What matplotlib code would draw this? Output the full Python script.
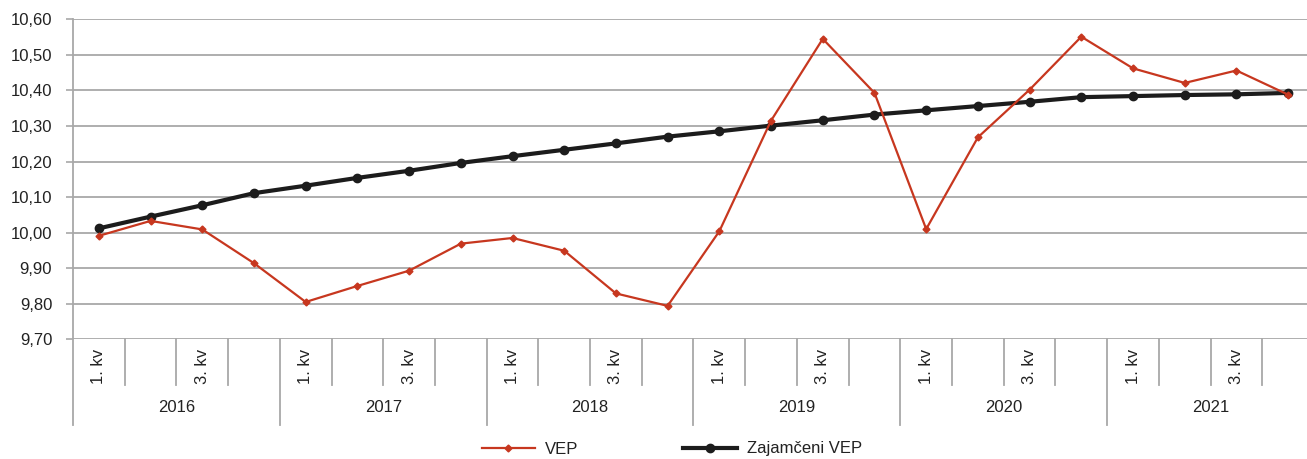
import matplotlib
matplotlib.use("Agg")
import matplotlib.pyplot as plt
from matplotlib.lines import Line2D
from matplotlib.ticker import FuncFormatter

years = ["2016", "2017", "2018", "2019", "2020", "2021"]
quarter_labels = ["1. kv", "", "3. kv", ""]
vep = [9.991, 10.033, 10.009, 9.914, 9.805, 9.850, 9.893, 9.969,
       9.985, 9.949, 9.829, 9.794, 10.004, 10.315, 10.545, 10.393,
       10.010, 10.268, 10.402, 10.551, 10.462, 10.421, 10.456, 10.388]
zajamceni = [10.012, 10.045, 10.077, 10.111, 10.132, 10.154, 10.174, 10.196,
             10.215, 10.233, 10.251, 10.270, 10.285, 10.301, 10.316, 10.332,
             10.344, 10.356, 10.368, 10.381, 10.384, 10.387, 10.389, 10.393]
y_ticks = [9.70, 9.80, 9.90, 10.00, 10.10, 10.20, 10.30, 10.40, 10.50, 10.60]

plt.rcParams['font.family'] = ['Liberation Sans', 'DejaVu Sans']

W, H = 1307, 459
fig = plt.figure(figsize=(W / 100, H / 100), dpi=100)
ax_left, ax_right, ax_top, ax_bot = 73, 1314, 19.3, 339.3
ax = fig.add_axes([ax_left / W, 1 - ax_bot / H, (ax_right - ax_left) / W, (ax_bot - ax_top) / H])

n = len(vep)
x = list(range(n))
red = '#c7371f'
black = '#1c1c1c'
grid_c = '#a8a8a8'

ax.plot(x, zajamceni, color=black, lw=3.0, marker='o', ms=6, zorder=3,
        label='Zajamčeni VEP', solid_capstyle='round')
ax.plot(x, vep, color=red, lw=1.6, marker='D', ms=3.5, zorder=4, label='VEP')

ax.set_xlim(-0.5, n - 0.5)
ax.set_ylim(y_ticks[0], y_ticks[-1])
ax.set_yticks(y_ticks)
ax.yaxis.set_major_formatter(FuncFormatter(lambda v, p: f"{v:.2f}".replace('.', ',')))
ax.grid(axis='y', color=grid_c, lw=1.3)
ax.set_axisbelow(True)
for s in ax.spines.values():
    s.set_visible(False)
ax.tick_params(axis='y', length=5, width=1.2, color=grid_c, pad=10, labelsize=12, labelcolor='#222222')
ax.set_xticks([])

ph = ax_bot - ax_top
def fy(py):
    return -(py - ax_bot) / ph

trans = ax.get_xaxis_transform()
# left spine continuing down as first year separator
ax.add_line(Line2D([-0.5, -0.5], [1, fy(425)], transform=trans, color=grid_c, lw=1.3, clip_on=False))
for i in range(n):
    xb = i + 0.5
    if (i + 1) % 4 == 0:
        ax.add_line(Line2D([xb, xb], [0, fy(425)], transform=trans, color=grid_c, lw=1.3, clip_on=False))
    else:
        ax.add_line(Line2D([xb, xb], [0, fy(385)], transform=trans, color=grid_c, lw=1.3, clip_on=False))
    lab = quarter_labels[i % 4]
    if lab:
        ax.text(i, fy(366), lab, transform=trans, rotation=90, ha='center', va='center',
                fontsize=12, color='#222222')
for k, yr in enumerate(years):
    ax.text(4 * k + 1.5, fy(408), yr, transform=trans, ha='center', va='center',
            fontsize=12, color='#222222')

handles = [Line2D([], [], color=red, lw=1.6, marker='D', ms=3.5),
           Line2D([], [], color=black, lw=3.0, marker='o', ms=6)]
fig.legend(handles, ['VEP', 'Zajamčeni VEP'], loc='center', ncol=2,
           bbox_to_anchor=(0.514, 1 - 449 / H), frameon=False, fontsize=12,
           handlelength=3.2, handletextpad=0.6, columnspacing=6.3,
           labelcolor='#222222')

fig.savefig('out.png', dpi=100)
